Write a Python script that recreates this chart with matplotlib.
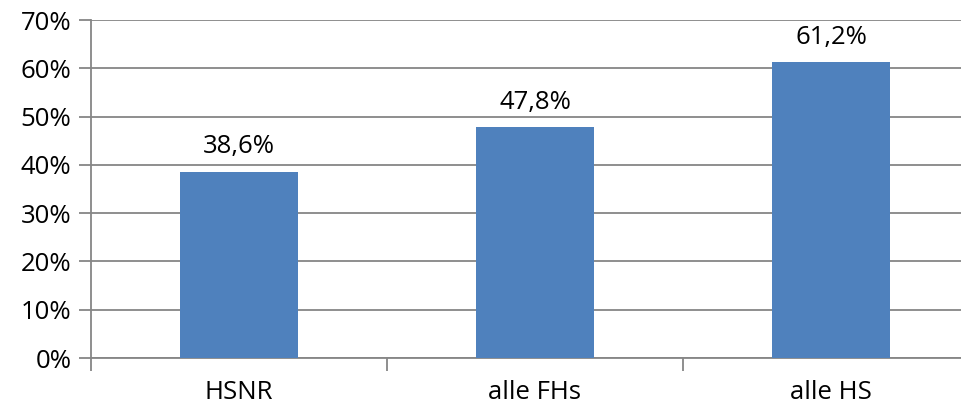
import matplotlib.pyplot as plt
from matplotlib.ticker import FuncFormatter

categories = ["HSNR", "alle FHs", "alle HS"]
values = [38.6, 47.8, 61.2]
yticks = [0, 10, 20, 30, 40, 50, 60, 70]

plt.rcParams["font.family"] = ["Open Sans", "DejaVu Sans"]
plt.rcParams["font.size"] = 18.5

W, H = 961, 408
fig = plt.figure(figsize=(W / 100, H / 100), dpi=100)
# plot area runs a little past the right edge of the figure
ax = fig.add_axes([91 / W, (H - 358) / H, 888 / W, 338 / H])

bar_color = "#4F81BD"
grid_color = "#868686"

x = list(range(len(categories)))
bars = ax.bar(x, values, width=0.4, color=bar_color, zorder=3)

for xi, v in zip(x, values):
    ax.annotate(f"{v:.1f}%".replace(".", ","), (xi, v), xytext=(0, 9),
                textcoords="offset points", ha="center", va="bottom",
                color="black")

ax.set_xlim(-0.5, len(categories) - 0.5)
ax.set_ylim(0, 70)
ax.set_yticks(yticks)
ax.yaxis.set_major_formatter(FuncFormatter(lambda v, _: f"{v:.0f}%"))
ax.yaxis.grid(True, color=grid_color, linewidth=1.3, zorder=0)

# category labels at centres, tick marks at the category boundaries
ax.set_xticks(x)
ax.set_xticklabels(categories)
ax.set_xticks([i + 0.5 for i in range(-1, len(categories))], minor=True)
ax.tick_params(axis="x", which="major", length=0, pad=16)
ax.tick_params(axis="x", which="minor", length=9, width=1.3, color=grid_color)
ax.tick_params(axis="y", length=9, width=1.3, color=grid_color, pad=5)

for side in ["top", "right"]:
    ax.spines[side].set_visible(False)
for side in ["left", "bottom"]:
    ax.spines[side].set_color(grid_color)
    ax.spines[side].set_linewidth(1.3)

fig.savefig("out.png", dpi=100)
